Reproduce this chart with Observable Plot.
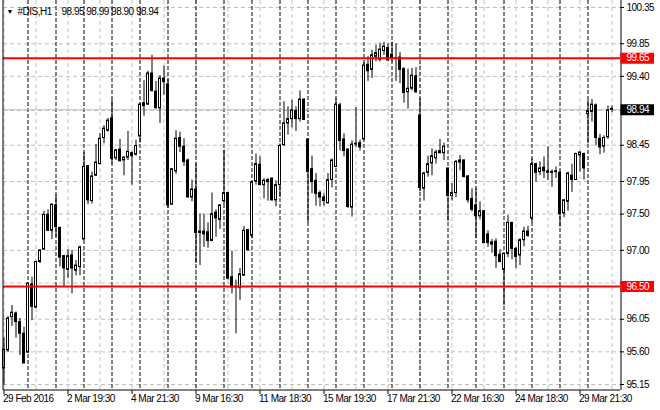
<!DOCTYPE html>
<html><head><meta charset="utf-8">
<script src="https://cdn.jsdelivr.net/npm/d3@7"></script>
<script src="https://cdn.jsdelivr.net/npm/@observablehq/plot@0.6"></script>
<style>html,body{margin:0;padding:0;background:#fff}</style>
</head><body><div id="chart"></div>
<script>
// #DIS H1 candles, 29 Feb 2016 17:30 .. 30 Mar 2016 22:30 (one entry per bar)
const open = [95.37,95.62,96.08,96.13,96.01,95.85,95.59,96.53,96.21,96.84,97.01,97.49,97.27,97.62,97.31,96.92,96.73,96.93,96.72,96.77,
97.15,98.16,97.68,98.03,98.19,98.55,98.65,98.82,98.27,98.39,98.24,98.28,98.34,98.32,98.57,99.03,99.01,99.44,99.19,98.96,
99.37,99.29,97.63,98.09,98.55,98.43,98.24,97.73,97.84,97.26,97.26,97.25,97.13,97.52,97.42,97.68,97.79,96.63,96.50,96.48,
96.65,97.28,97.20,97.95,98.18,97.90,97.94,97.99,97.69,97.90,98.45,98.75,98.81,98.92,98.81,99.08,98.53,98.12,97.96,97.79,
97.73,97.65,97.97,98.15,99.00,98.53,98.39,97.59,98.46,98.48,98.53,99.56,99.49,99.67,99.63,99.75,99.79,99.70,99.64,99.66,
99.50,99.18,99.23,99.40,98.86,97.85,98.07,98.20,98.27,98.34,98.34,98.13,97.75,97.79,98.21,98.24,98.02,97.71,97.62,97.47,
97.54,97.22,97.11,97.12,96.94,96.73,96.95,97.38,97.02,96.93,97.14,97.26,97.44,98.19,98.08,98.14,98.09,98.08,98.08,98.07,
97.51,97.67,98.03,97.97,98.31,98.33,98.88,98.91,99.00,98.54,98.43,98.56,98.95];
const high = [95.79,96.09,96.24,96.15,96.06,95.94,96.55,96.63,96.85,97.01,97.54,97.56,97.64,97.76,97.32,96.93,97.01,97.00,96.86,97.06,
98.35,98.17,98.08,98.46,98.61,98.72,98.82,99.07,98.39,98.53,98.29,98.64,98.36,98.52,99.03,99.34,99.47,99.69,99.33,99.41,
99.54,99.36,98.13,98.65,98.63,98.54,98.26,97.97,98.19,97.50,97.50,97.38,97.79,97.56,97.63,98.38,97.80,96.99,96.59,96.75,
97.33,97.29,97.95,98.33,98.29,97.99,97.99,98.00,97.96,98.47,99.05,98.98,99.07,98.98,99.20,99.09,98.53,98.30,98.06,97.82,
97.78,98.06,98.26,99.09,99.03,98.61,98.40,98.51,98.97,98.52,99.59,99.67,99.76,99.83,99.86,99.87,99.85,99.87,99.85,99.73,
99.52,99.50,99.51,99.52,99.09,98.08,98.30,98.40,98.38,98.53,98.48,98.13,97.92,98.24,98.31,98.25,98.03,97.85,97.85,97.67,
97.55,97.27,97.15,97.16,97.01,96.96,97.48,97.38,97.04,97.16,97.32,97.33,98.26,98.20,98.22,98.29,98.43,98.11,98.15,98.09,
97.70,98.08,98.19,98.34,98.36,98.34,99.07,99.08,99.02,98.60,98.58,98.99,98.99];
const low = [95.14,95.59,95.95,95.79,95.55,95.44,95.58,96.03,96.20,96.82,97.00,97.26,97.15,97.18,96.77,96.50,96.61,96.40,96.65,96.65,
97.14,97.63,97.64,98.02,98.18,98.47,98.63,98.19,98.24,98.22,98.03,98.24,97.90,98.30,98.48,98.85,99.00,99.18,98.95,98.75,
99.14,97.58,97.62,98.05,98.35,98.16,97.72,97.67,96.82,96.79,97.04,97.03,97.12,97.18,97.29,97.63,96.59,96.40,95.85,96.31,
96.64,96.99,97.16,97.90,97.90,97.71,97.68,97.68,97.60,97.73,98.44,98.59,98.69,98.64,98.77,98.79,97.38,97.78,97.61,97.60,
97.61,97.64,97.86,98.14,98.37,98.29,97.58,97.46,98.42,98.37,98.52,99.33,99.37,99.60,99.60,99.69,99.60,99.60,99.33,99.30,
99.03,98.95,99.20,99.17,97.81,97.68,98.01,98.03,98.19,98.33,98.24,97.40,97.68,97.73,98.10,98.00,97.65,97.53,97.16,97.42,
97.09,97.04,96.96,96.75,96.83,96.24,96.90,96.87,96.75,96.79,97.05,97.18,97.38,97.94,98.03,97.99,97.96,97.87,97.99,97.32,
97.45,97.54,97.80,97.97,98.08,97.97,98.47,98.77,98.44,98.32,98.34,98.53,98.90];
const close = [95.63,96.06,96.14,96.01,95.85,95.44,96.54,96.22,96.84,97.00,97.49,97.27,97.63,97.32,96.90,96.75,96.92,96.75,96.79,97.04,
98.15,97.69,98.02,98.21,98.54,98.68,98.79,98.26,98.38,98.23,98.28,98.36,98.30,98.44,99.01,98.99,99.44,99.20,98.96,99.37,
99.32,97.62,98.12,98.54,98.43,98.22,97.73,97.84,97.24,97.24,97.22,97.13,97.50,97.44,97.62,97.79,96.61,96.49,96.49,96.67,
97.27,97.00,97.94,98.19,97.90,97.96,97.97,97.69,97.90,98.44,98.75,98.81,98.93,98.81,99.08,98.80,98.08,97.94,97.78,97.73,
97.68,97.97,98.24,99.01,98.51,98.37,97.60,98.46,98.47,98.42,99.55,99.47,99.69,99.72,99.77,99.81,99.62,99.64,99.65,99.49,
99.17,99.23,99.41,99.18,97.86,98.06,98.19,98.30,98.35,98.37,98.43,97.75,97.79,98.22,98.24,98.01,97.69,97.56,97.47,97.54,
97.10,97.10,97.08,96.92,96.84,96.95,97.38,97.02,96.91,97.14,97.26,97.20,98.19,98.07,98.13,98.09,98.07,98.07,98.09,97.50,
97.69,98.06,97.97,98.33,98.35,98.13,98.92,99.01,98.55,98.42,98.55,98.93,98.94];

const symbolName = "#DIS,H1";
const levels = [99.65, 96.50];                       // red horizontal lines
const yTicks = [100.35, 99.85, 99.40, 98.93, 98.45, 97.95, 97.50, 97.00, 96.55, 96.05, 95.60, 95.15];
// labels of the two ticks hidden behind the price boxes are left empty
const yTickLabels = ["100.35","99.85","99.40","","98.45","97.95","97.50","97.00","","96.05","95.60","95.15"];
const xLabelBars = [0, 16, 32, 48, 64, 80, 96, 112, 128, 144];
const xLabels = ["29 Feb 2016","2 Mar 19:30","4 Mar 21:30","9 Mar 16:30","11 Mar 18:30","15 Mar 19:30","17 Mar 21:30","22 Mar 16:30","24 Mar 18:30","29 Mar 21:30"];
const dayStartBars = [6,13,20,27,34,41,48,55,62,69,76,83,90,97,104,111,118,125,132,139,146];
const gridBars = [0,8,16,24,32,40,48,56,64,72,80,88,96,104,112,120,128,136,144,152];

const data = open.map((o, i) => ({i, open: o, high: high[i], low: low[i], close: close[i]}));
const last = data[data.length - 1];
const X0 = -0.125, X1 = 154.125, Y0 = 95.0672, Y1 = 100.4466;
const px = 0.25, py = 1 / 72.5;   // one pixel in x / y units

const chart = Plot.plot({
  width: 660, height: 410,
  marginLeft: 3, marginRight: 40, marginTop: 0, marginBottom: 20,
  x: {domain: [X0, X1], axis: null},
  y: {domain: [Y0, Y1], axis: null},
  style: "background:#fff;color:#000;font-family:'Liberation Sans',Arial,'DejaVu Sans',sans-serif;font-size:10px;letter-spacing:-0.5px;",
  marks: [
    Plot.ruleY(yTicks, {stroke: "#c0c0c0", strokeDasharray: "4,3"}),
    Plot.ruleX(gridBars, {stroke: "#c0c0c0", strokeDasharray: "4,3"}),
    Plot.ruleX(dayStartBars, {stroke: "#000", strokeDasharray: "4,2"}),
    Plot.ruleY([last.close], {stroke: "#c0c0c0"}),
    Plot.ruleX(data, {x: "i", y1: "low", y2: "high", stroke: "#000"}),
    Plot.rect(data, {x1: d => d.i - px, x2: d => d.i + px, y1: "open", y2: "close",
      fill: d => d.close >= d.open ? "#fff" : "#000", stroke: "#000", strokeWidth: 1, inset: 0}),
    Plot.ruleY(levels, {stroke: "#ff0000", strokeWidth: 2}),
    // frame
    Plot.ruleX([X0], {dx: -0.5, stroke: "#000"}),
    Plot.ruleX([X1], {dx: 0.5, stroke: "#000"}),
    Plot.ruleY([Y0], {dy: -0.5, stroke: "#000"}),
    // right price axis
    Plot.ruleY(yTicks, {x1: X1, x2: X1 + 4 * px, stroke: "#000"}),
    Plot.text(yTicks, {x: X1, y: d => d, text: (d, i) => yTickLabels[i], dx: 6, textAnchor: "start"}),
    Plot.ruleY(levels, {x1: X1 + 0.5 * px, x2: X1 + 34 * px, stroke: "#ff0000", strokeWidth: 11}),
    Plot.text(levels, {x: X1, y: d => d, text: d => d.toFixed(2), dx: 6, textAnchor: "start", fill: "#fff"}),
    Plot.ruleY([last.close], {x1: X1 + 0.5 * px, x2: X1 + 34 * px, stroke: "#000", strokeWidth: 11}),
    Plot.text([last.close], {x: X1, y: d => d, text: d => d.toFixed(2), dx: 6, textAnchor: "start", fill: "#fff"}),
    // time axis
    Plot.ruleX(xLabelBars, {y1: Y0, y2: Y0 - 4 * py, stroke: "#000"}),
    Plot.text(xLabelBars, {x: d => d, y: Y0, text: (d, i) => xLabels[i], textAnchor: "start", dx: -1, dy: 11, lineAnchor: "bottom"}),
    // title
    Plot.text(["\u25BC"], {frameAnchor: "top-left", dx: 3, dy: 13, fontSize: 7, textAnchor: "start", lineAnchor: "bottom"}),
    Plot.text([symbolName], {frameAnchor: "top-left", dx: 14, dy: 14, textAnchor: "start", lineAnchor: "bottom"}),
    Plot.text([[last.open, last.high, last.low, last.close].map(v => v.toFixed(2)).join(" ")],
      {frameAnchor: "top-left", dx: 58, dy: 14, textAnchor: "start", lineAnchor: "bottom"})
  ]
});
document.getElementById("chart").append(chart);
</script>
</body></html>
